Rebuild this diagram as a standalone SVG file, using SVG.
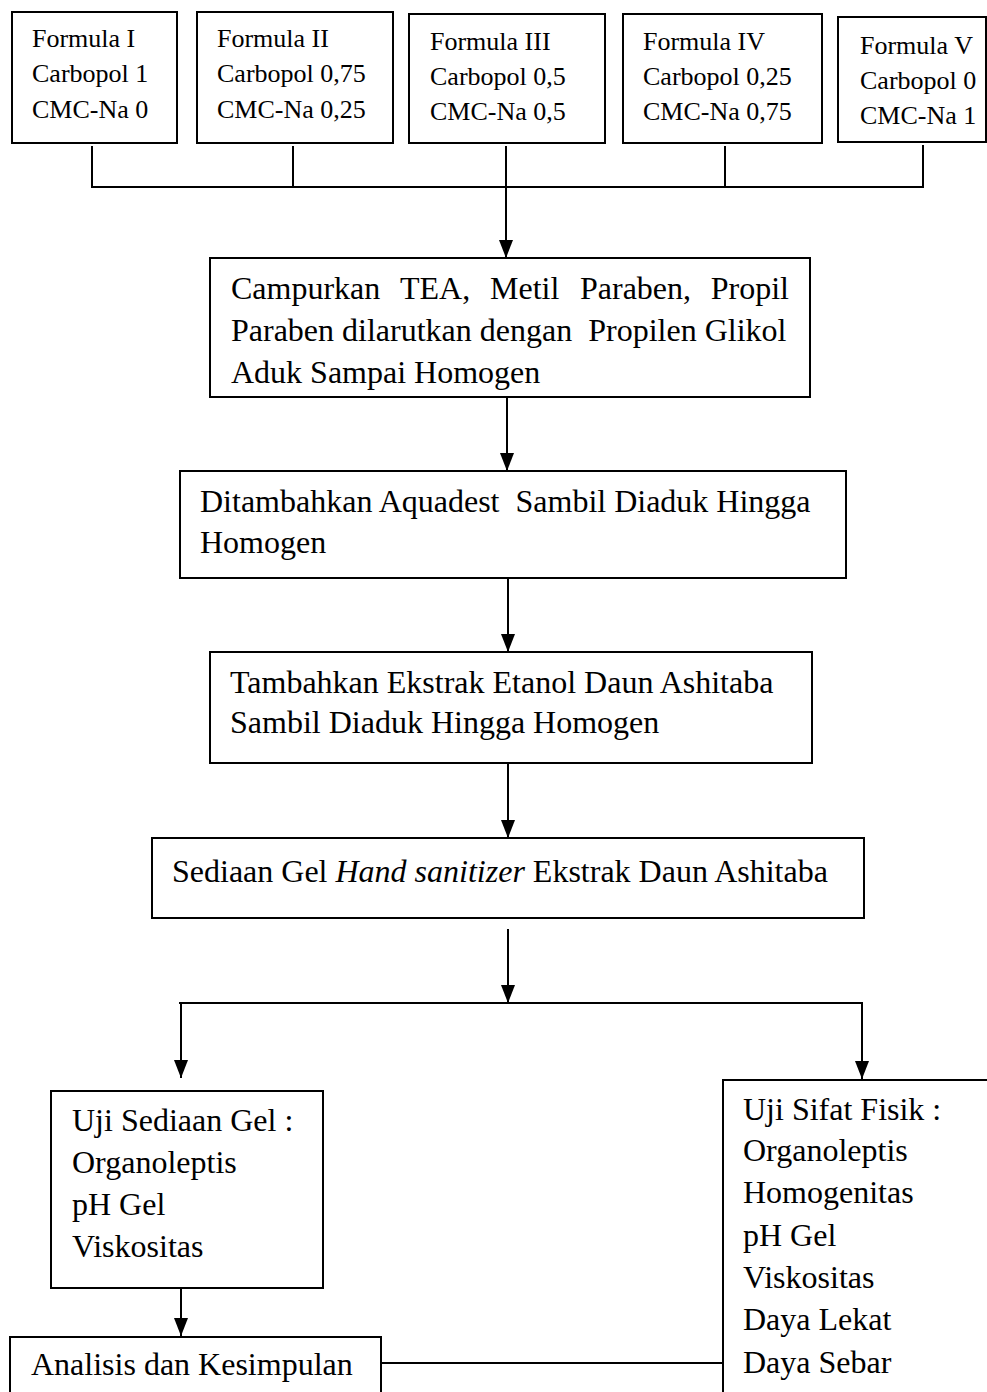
<svg xmlns="http://www.w3.org/2000/svg" width="987" height="1392" viewBox="0 0 987 1392">
<style>
  .box { fill: #fff; stroke: #000; stroke-width: 2; }
  .t { font-family: "Liberation Serif", "Times New Roman", serif; font-size: 32px; fill: #000; }
  .s { font-family: "Liberation Serif", "Times New Roman", serif; font-size: 26px; fill: #000; }
  .ln { fill: none; stroke: #000; stroke-width: 2; }
</style>
<defs>
  <marker id="arr" viewBox="0 0 18 14" refX="18" refY="7" markerWidth="18" markerHeight="14" markerUnits="userSpaceOnUse" orient="auto">
    <path d="M0,0 L18,7 L0,14 z" fill="#000"/>
  </marker>
</defs>
<rect width="987" height="1392" fill="#fff"/>

<g id="connectors">
  <polyline class="ln" points="92,146 92,187 923,187 923,145"/>
  <line class="ln" x1="293" y1="146" x2="293" y2="187"/>
  <line class="ln" x1="725" y1="146" x2="725" y2="187"/>
  <line class="ln" x1="506" y1="146" x2="506" y2="187"/>
  <line class="ln" x1="506" y1="187" x2="506" y2="258" marker-end="url(#arr)"/>
  <line class="ln" x1="507" y1="398" x2="507" y2="471" marker-end="url(#arr)"/>
  <line class="ln" x1="508" y1="578" x2="508" y2="652" marker-end="url(#arr)"/>
  <line class="ln" x1="508" y1="764" x2="508" y2="838" marker-end="url(#arr)"/>
  <line class="ln" x1="508" y1="929" x2="508" y2="1003" marker-end="url(#arr)"/>
  <line class="ln" x1="179" y1="1003" x2="863" y2="1003"/>
  <line class="ln" x1="181" y1="1003" x2="181" y2="1078" marker-end="url(#arr)"/>
  <line class="ln" x1="862" y1="1003" x2="862" y2="1079" marker-end="url(#arr)"/>
  <line class="ln" x1="181" y1="1288" x2="181" y2="1336" marker-end="url(#arr)"/>
  <line class="ln" x1="381" y1="1363" x2="723" y2="1363"/>
</g>

<g id="formula1">
  <rect class="box" x="12" y="12" width="165" height="131"/>
  <text class="s" x="32" y="47">Formula I</text>
  <text class="s" x="32" y="82">Carbopol 1</text>
  <text class="s" x="32" y="118">CMC-Na 0</text>
</g>
<g id="formula2">
  <rect class="box" x="197" y="12" width="196" height="131"/>
  <text class="s" x="217" y="47">Formula II</text>
  <text class="s" x="217" y="82">Carbopol 0,75</text>
  <text class="s" x="217" y="118">CMC-Na 0,25</text>
</g>
<g id="formula3">
  <rect class="box" x="409" y="14" width="196" height="129"/>
  <text class="s" x="430" y="50">Formula III</text>
  <text class="s" x="430" y="85">Carbopol 0,5</text>
  <text class="s" x="430" y="120">CMC-Na 0,5</text>
</g>
<g id="formula4">
  <rect class="box" x="623" y="14" width="199" height="129"/>
  <text class="s" x="643" y="50">Formula IV</text>
  <text class="s" x="643" y="85">Carbopol 0,25</text>
  <text class="s" x="643" y="120">CMC-Na 0,75</text>
</g>
<g id="formula5">
  <rect class="box" x="838" y="17" width="148" height="125"/>
  <text class="s" x="860" y="54">Formula V</text>
  <text class="s" x="860" y="89">Carbopol 0</text>
  <text class="s" x="860" y="124">CMC-Na 1</text>
</g>

<g id="campurkan">
  <rect class="box" x="210" y="258" width="600" height="139"/>
  <text class="t" y="299"><tspan x="231">Campurkan</tspan><tspan x="400">TEA,</tspan><tspan x="490">Metil</tspan><tspan x="580">Paraben,</tspan><tspan x="789" text-anchor="end">Propil</tspan></text>
  <text class="t" x="231" y="341" xml:space="preserve">Paraben dilarutkan dengan  Propilen Glikol</text>
  <text class="t" x="231" y="383">Aduk Sampai Homogen</text>
</g>

<g id="aquadest">
  <rect class="box" x="180" y="471" width="666" height="107"/>
  <text class="t" x="200" y="512" xml:space="preserve">Ditambahkan Aquadest  Sambil Diaduk Hingga</text>
  <text class="t" x="200" y="553">Homogen</text>
</g>

<g id="ekstrak">
  <rect class="box" x="210" y="652" width="602" height="111"/>
  <text class="t" x="230" y="693">Tambahkan Ekstrak Etanol Daun Ashitaba</text>
  <text class="t" x="230" y="733">Sambil Diaduk Hingga Homogen</text>
</g>

<g id="sediaan">
  <rect class="box" x="152" y="838" width="712" height="80"/>
  <text class="t" x="172" y="882">Sediaan Gel <tspan font-style="italic">Hand sanitizer</tspan> Ekstrak Daun Ashitaba</text>
</g>

<g id="uji-sediaan">
  <rect class="box" x="51" y="1091" width="272" height="197"/>
  <text class="t" x="72" y="1131">Uji Sediaan Gel :</text>
  <text class="t" x="72" y="1173">Organoleptis</text>
  <text class="t" x="72" y="1215">pH Gel</text>
  <text class="t" x="72" y="1257">Viskositas</text>
</g>

<g id="uji-sifat">
  <rect class="box" x="723" y="1080" width="300" height="340"/>
  <text class="t" x="743" y="1120">Uji Sifat Fisik :</text>
  <text class="t" x="743" y="1161">Organoleptis</text>
  <text class="t" x="743" y="1203">Homogenitas</text>
  <text class="t" x="743" y="1246">pH Gel</text>
  <text class="t" x="743" y="1288">Viskositas</text>
  <text class="t" x="743" y="1330">Daya Lekat</text>
  <text class="t" x="743" y="1373">Daya Sebar</text>
</g>

<g id="analisis">
  <rect class="box" x="10" y="1337" width="371" height="100"/>
  <text class="t" x="31" y="1375">Analisis dan Kesimpulan</text>
</g>
</svg>
